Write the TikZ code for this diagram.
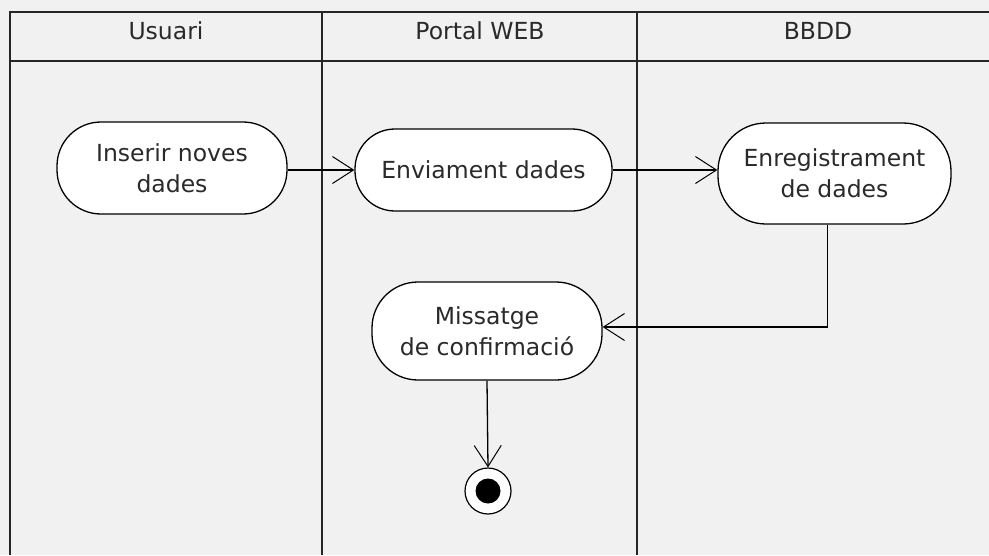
\documentclass[tikz,border=0pt]{standalone}
\usepackage{fontspec}
\setmainfont{DejaVu Sans}
\usetikzlibrary{arrows.meta,calc}
\definecolor{bgc}{HTML}{F1F1F1}
\definecolor{txt}{HTML}{2A2A2A}
\tikzset{
  act/.style={draw=black, line width=1.3pt, fill=white, align=center,
    inner sep=0pt, text=txt, font=\fontsize{23.5}{31}\selectfont},
  lane/.style={draw=black!85, line width=1.6pt},
  hdr/.style={text=txt, font=\fontsize{23.5}{28}\selectfont, inner sep=0pt},
  flow/.style={draw=black, line width=1.3pt,
    -{Straight Barb[length=21pt,width=27pt,line width=1pt]}},
}
\begin{document}
\begin{tikzpicture}[x=1pt,y=-1pt]
\fill[bgc] (0,0) rectangle (989,555);
\useasboundingbox (0,0) rectangle (989,555);
% swimlanes
\draw[lane] (989,12) -- (10,12) -- (10,555);
\draw[lane] (10,61) -- (989,61);
\draw[lane] (322,12) -- (322,555);
\draw[lane] (637,12) -- (637,555);
\node[hdr] (h1) at (166,31) {Usuari};
\node[hdr] (h2) at (480,31) {Portal WEB};
\node[hdr] (h3) at (818,31) {BBDD};
% activities
\node[act, minimum width=230pt, minimum height=92pt, rounded corners=44pt] (ins) at (172,168) {Inserir noves\\dades};
\node[act, minimum width=257pt, minimum height=82pt, rounded corners=40pt] (env) at (483.5,170) {Enviament dades};
\node[act, minimum width=233pt, minimum height=101pt, rounded corners=48pt] (enr) at (834.5,173.5) {Enregistrament\\de dades};
\node[act, minimum width=230pt, minimum height=98pt, rounded corners=46pt] (msg) at (487,331) {Missatge\\de confirmació};
% final node
\node[circle, draw=black, line width=1.2pt, fill=white, minimum size=46pt, inner sep=0pt] (fin) at (488,491) {};
\node[circle, fill=black, minimum size=25pt, inner sep=0pt] (finin) at (fin.center) {};
% flows
\draw[flow] (ins.east |- 0,170) -- (env.west);
\draw[flow] (env.east) -- (env.east -| enr.west);
\draw[flow] ([xshift=-7pt]enr.south) |- ([yshift=4pt]msg.east);
\draw[flow] (msg.south) -- (fin.north);
\end{tikzpicture}
\end{document}
